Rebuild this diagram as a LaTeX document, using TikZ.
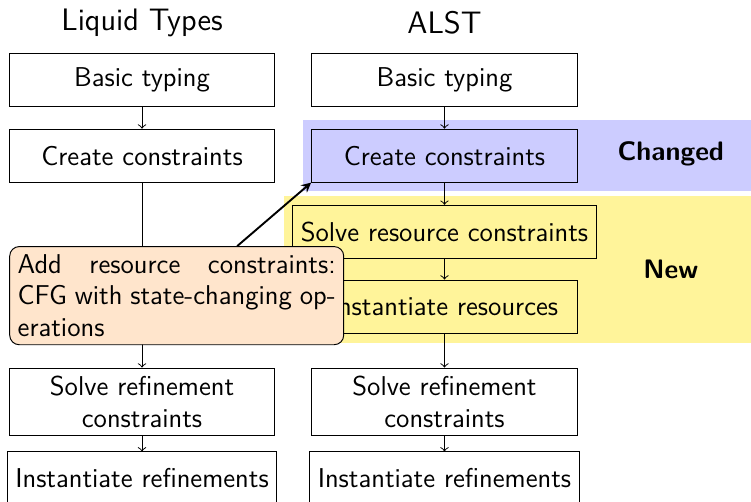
\documentclass[tikz,border=0pt]{standalone}
\usepackage{fontspec}
\definecolor{chgband}{RGB}{204,204,255}
\definecolor{newband}{RGB}{255,244,154}

\begin{document}
\begin{tikzpicture}[>=to,
  font=\fontsize{11.4}{13.2}\sffamily,
  stage/.style={draw, align=center, minimum width=3.91cm, minimum height=0.78cm},
  band/.style={font=\fontsize{11.2}{13}\sffamily\bfseries}]
\clip[use as bounding box] (0,0) rectangle (11.05,-7.38);

\fill[chgband] (4.46,-1.77) rectangle (11.3,-2.81);
\fill[newband] (4.18,-2.88) rectangle (11.3,-5.05);
\node[band] (chg) at (9.87,-2.27) {Changed};
\node[band] (new) at (9.87,-3.97) {New};

\node[font=\fontsize{13}{16}\sffamily] (lt) at (2.09,-0.33) {Liquid Types};
\node[font=\fontsize{13}{16}\sffamily] (rt) at (6.54,-0.33) {ALST};

\node[stage] (l1) at (2.09,-1.17) {Basic typing};
\node[stage] (l2) at (2.09,-2.29) {Create constraints};
\node[stage] (l3) at (2.09,-5.91) {Solve refinement\\constraints};
\node[stage] (l4) at (2.09,-7.04) {Instantiate refinements};

\node[stage] (r1) at (6.54,-1.17) {Basic typing};
\node[stage] (r2) at (6.54,-2.29) {Create constraints};
\node[stage] (r3) at (6.54,-3.41) {Solve resource constraints};
\node[stage] (r4) at (6.54,-4.51) {Instantiate resources};
\node[stage] (r5) at (6.54,-5.91) {Solve refinement\\constraints};
\node[stage] (r6) at (6.54,-7.04) {Instantiate refinements};

\draw[->] (l1) -- (l2);
\draw[->] (l2) -- (l3);
\draw[->] (l3) -- (l4);

\draw[->] (r1) -- (r2);
\draw[->] (r2) -- (r3);
\draw[->] (r3) -- (r4);
\draw[->] (r4) -- (r5);
\draw[->] (r5) -- (r6);

\node[draw, rounded corners, fill=orange!20, text width=4.68cm, align=justify] (add) at (2.60,-4.35)
  {Add resource constraints: CFG with state-changing op\-erations};
\draw[->, >=stealth, thick] (add.north) ++(0.89,0) coordinate (from) (from) -- (r2.south west);
\end{tikzpicture}
\end{document}
